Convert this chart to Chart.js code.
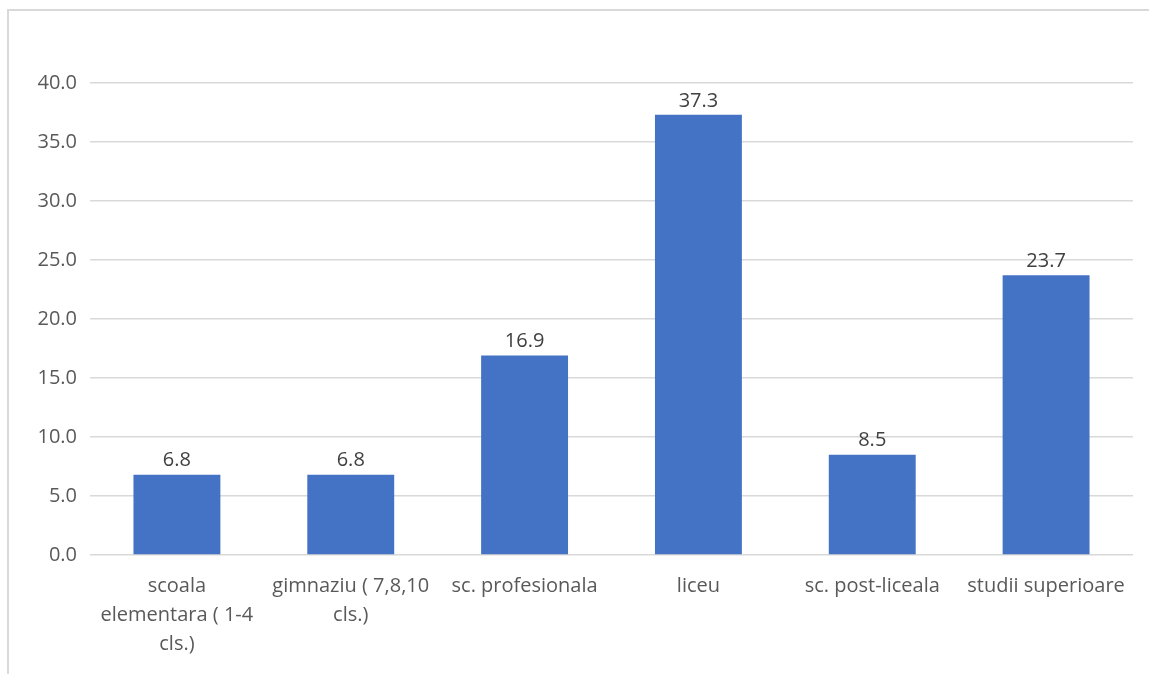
<!DOCTYPE html>
<html>
<head>
<meta charset="utf-8">
<script src="https://cdn.jsdelivr.net/npm/chart.js@4/dist/chart.umd.min.js"></script>
<style>
  html, body { margin: 0; padding: 0; background: #fff; }
  #wrap { position: relative; width: 1149px; height: 674px; overflow: hidden; }
  #frame { position: absolute; left: 7px; top: 9px; width: 1160px; height: 700px; border: 2px solid #d9d9d9; box-sizing: border-box; }
  canvas { position: absolute; left: 0; top: 0; }
</style>
</head>
<body>
<div id="wrap">
  <div id="frame"></div>
  <canvas id="c" width="1149" height="674"></canvas>
</div>
<script>
const categories = [
  ["scoala", "elementara ( 1-4", "cls.)"],
  ["gimnaziu ( 7,8,10", "cls.)"],
  "sc. profesionala",
  "liceu",
  "sc. post-liceala",
  "studii superioare"
];
const values = [6.8, 6.8, 16.9, 37.3, 8.5, 23.7];
const yTicks = [0, 5, 10, 15, 20, 25, 30, 35, 40];

const FONT = "'Open Sans', 'Liberation Sans', sans-serif";

const valueLabels = {
  id: 'valueLabels',
  afterDatasetsDraw(chart) {
    const ctx = chart.ctx;
    const meta = chart.getDatasetMeta(0);
    ctx.save();
    ctx.font = "20px " + FONT;
    ctx.fillStyle = "#404040";
    ctx.textAlign = "center";
    ctx.textBaseline = "middle";
    meta.data.forEach((bar, i) => {
      ctx.fillText(values[i].toFixed(1), bar.x, bar.y - 14);
    });
    ctx.restore();
  }
};

new Chart(document.getElementById('c'), {
  type: 'bar',
  data: {
    labels: categories,
    datasets: [{
      data: values,
      backgroundColor: '#4472C4',
      barPercentage: 0.5,
      categoryPercentage: 1.0
    }]
  },
  options: {
    responsive: false,
    animation: false,
    layout: { padding: { top: 83, right: 16, left: 0, bottom: 0 } },
    plugins: { legend: { display: false }, tooltip: { enabled: false } },
    scales: {
      x: {
        grid: { display: false },
        border: { display: false },
        ticks: {
          color: '#595959',
          font: { family: FONT, size: 20, lineHeight: 1.45 },
          maxRotation: 0, minRotation: 0, autoSkip: false, padding: 9
        },
        afterFit(scale) { scale.height = 119; }
      },
      y: {
        min: 0, max: 40,
        afterBuildTicks(scale) { scale.ticks = yTicks.map(v => ({ value: v })); },
        grid: { color: '#d9d9d9', lineWidth: 1.5, drawTicks: false },
        border: { display: false },
        ticks: {
          color: '#595959',
          font: { family: FONT, size: 20 },
          padding: 13,
          callback: v => Number(v).toFixed(1)
        },
        afterFit(scale) { scale.width = 90; }
      }
    }
  },
  plugins: [valueLabels]
});
</script>
</body>
</html>
